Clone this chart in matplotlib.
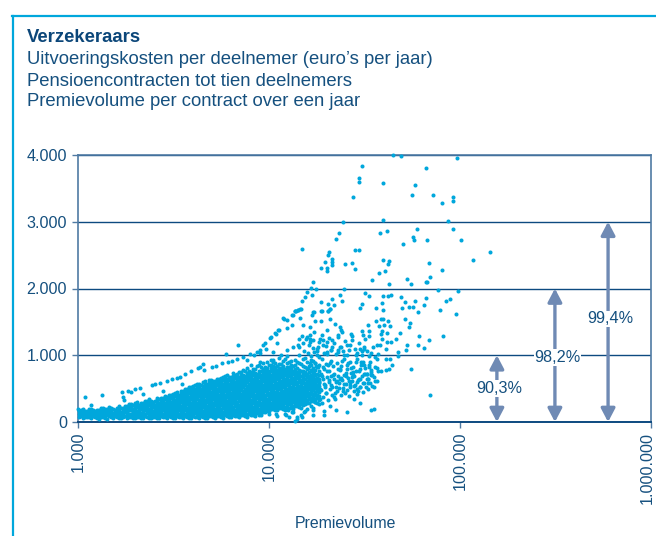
import matplotlib
matplotlib.use('Agg')
import matplotlib.pyplot as plt
from matplotlib.ticker import FixedLocator, NullLocator
from matplotlib.transforms import ScaledTranslation

plt.rcParams['font.family'] = ['Liberation Sans', 'DejaVu Sans']

kolom_premie = [1010, 1060, 1112, 1167, 1225, 1285, 1349, 1415, 1485, 1559, 1636, 1716, 1801, 1890, 1984, 2082,
                2185, 2293, 2406, 2525, 2650, 2781, 2918, 3063, 3214, 3373, 3540, 3715, 3898, 4091, 4293, 4505,
                4728, 4962, 5207, 5464, 5735, 6018, 6315, 6628, 6955, 7299, 7660, 8038, 8436, 8853, 9290, 9749,
                10230, 10740, 11270, 11830, 12410, 13020, 13670, 14340, 15050, 15800, 16580, 17400, 18260]
kolom_kosten = [
    [75, 120, 165],
    [60, 100, 145, 190],
    [80, 125, 170],
    [55, 105, 150, 195],
    [70, 115, 160],
    [45, 95, 140, 185],
    [75, 120, 165, 205],
    [50, 100, 150, 195],
    [70, 115, 165, 210],
    [85, 130, 180],
    [55, 100, 145, 190, 235],
    [75, 120, 170, 215],
    [60, 105, 150, 200, 245],
    [80, 125, 175, 220, 270],
    [55, 100, 145, 195, 240, 290],
    [75, 120, 165, 215, 260],
    [60, 105, 150, 195, 245, 290],
    [80, 130, 175, 220, 265, 315],
    [55, 100, 145, 195, 240, 285, 320],
    [75, 125, 170, 215, 260, 310],
    [60, 105, 150, 200, 245, 290, 340],
    [80, 125, 175, 220, 265, 310, 360],
    [55, 100, 150, 195, 240, 285, 335, 375],
    [75, 120, 170, 215, 260, 305, 355, 410],
    [60, 105, 150, 195, 245, 290, 335, 385, 430],
    [80, 125, 175, 220, 265, 315, 360, 405],
    [55, 100, 150, 195, 240, 285, 335, 380, 425, 470],
    [75, 125, 170, 215, 265, 310, 355, 405, 450, 500],
    [60, 105, 150, 200, 245, 290, 340, 385, 430, 480, 525],
    [80, 130, 175, 220, 270, 315, 360, 410, 455, 500, 550],
    [55, 105, 150, 195, 245, 290, 335, 385, 430, 475, 525, 575],
    [80, 125, 170, 220, 265, 310, 360, 405, 450, 500, 545, 600],
    [60, 105, 155, 200, 245, 295, 340, 385, 435, 480, 525, 575],
    [85, 130, 175, 225, 270, 315, 365, 410, 455, 505, 550, 595, 625],
    [60, 110, 155, 200, 250, 295, 340, 390, 435, 480, 530, 575, 620],
    [85, 130, 180, 225, 270, 320, 365, 410, 460, 505, 550, 600, 645],
    [65, 110, 155, 205, 250, 295, 345, 390, 435, 485, 530, 575, 625, 680],
    [90, 135, 180, 230, 275, 320, 370, 415, 460, 510, 555, 600, 650, 700],
    [70, 115, 160, 210, 255, 300, 350, 395, 440, 490, 535, 580, 630, 675],
    [95, 140, 185, 235, 280, 325, 375, 420, 465, 515, 560, 605, 655, 710],
    [75, 120, 170, 215, 260, 310, 355, 400, 450, 495, 540, 590, 635, 680, 745],
    [100, 145, 190, 240, 285, 330, 380, 425, 470, 520, 565, 610, 660, 705, 780],
    [80, 125, 175, 220, 265, 315, 360, 405, 455, 500, 545, 595, 640, 685, 735, 810],
    [105, 150, 195, 245, 290, 335, 385, 430, 475, 525, 570, 615, 665, 710, 755, 850],
    [85, 130, 180, 225, 270, 320, 365, 410, 460, 505, 550, 600, 645, 690, 740, 800],
    [110, 155, 200, 250, 295, 340, 390, 435, 480, 530, 575, 620, 670, 715, 760, 860],
    [145, 190, 235, 280, 330, 375, 420, 470, 515, 560, 610, 655, 700, 750, 795, 880],
    [170, 210, 260, 305, 350, 400, 445, 490, 540, 585, 630, 680, 725, 770, 815, 905],
    [195, 245, 290, 340, 385, 430, 480, 525, 570, 620, 665, 710, 760, 805, 850, 930],
    [180, 225, 270, 315, 365, 410, 455, 505, 550, 595, 645, 690, 735, 785, 830, 880],
    [210, 255, 300, 350, 395, 440, 490, 535, 580, 630, 675, 720, 770, 815, 865, 960],
    [190, 240, 285, 330, 380, 425, 470, 520, 565, 610, 660, 705, 750, 800, 845, 920],
    [220, 270, 315, 360, 410, 455, 500, 550, 595, 640, 690, 735, 780, 830, 880, 985],
    [205, 250, 300, 345, 390, 440, 485, 530, 580, 625, 670, 720, 765, 810, 860, 910],
    [235, 285, 330, 375, 425, 470, 515, 565, 610, 655, 705, 750, 795, 850, 930],
    [220, 265, 315, 360, 405, 455, 500, 545, 595, 640, 685, 735, 780, 880, 1000],
    [250, 300, 345, 390, 440, 485, 530, 580, 625, 670, 720, 770, 835, 950],
    [280, 335, 385, 430, 480, 525, 575, 620, 670, 725, 800, 900],
    [240, 310, 365, 415, 470, 515, 565, 610, 665, 710, 770, 860, 990],
    [300, 350, 400, 455, 505, 550, 600, 650, 705, 780, 890],
    [265, 335, 390, 445, 490, 540, 595, 640, 700, 760, 860],
]

# tussenkolommen, een halve stap verder
tussen_premie = [1035, 1086, 1139, 1196, 1255, 1317, 1382, 1450, 1522, 1597, 1676, 1758, 1845, 1937, 2033, 2133,
                 2239, 2349, 2465, 2587, 2715, 2850, 2990, 3138, 3293, 3456, 3627, 3806, 3994, 4191, 4398, 4616,
                 4844, 5083, 5334, 5598, 5875, 6165, 6470, 6790, 7125, 7477, 7847, 8235, 8642, 9069, 9517, 9987,
                 10480, 11000, 11550, 12120, 12710, 13340, 14000, 14690, 15420, 16190, 16990, 17830]
tussen_kosten = [
    [95, 140, 185],
    [80, 125, 170],
    [70, 105, 150, 200],
    [85, 130, 175],
    [60, 95, 135, 180],
    [80, 120, 160, 210],
    [65, 105, 145, 190],
    [85, 130, 175, 220],
    [55, 95, 140, 190],
    [75, 120, 160, 205],
    [65, 110, 150, 205],
    [95, 145, 195, 240],
    [70, 125, 175, 225, 265],
    [60, 105, 150, 200, 250],
    [80, 120, 170, 220, 270, 305],
    [60, 95, 140, 190, 240, 285],
    [85, 125, 175, 220, 270, 310],
    [65, 110, 155, 200, 250, 295, 340],
    [80, 120, 170, 220, 265, 305],
    [60, 100, 150, 195, 240, 285, 330, 360],
    [90, 130, 180, 225, 270, 320, 365],
    [70, 110, 150, 200, 245, 290, 340, 385],
    [85, 130, 175, 220, 265, 315, 355, 400],
    [60, 100, 150, 195, 245, 285, 330, 380, 420],
    [95, 135, 175, 220, 265, 310, 360, 405, 445],
    [70, 110, 155, 200, 245, 295, 340, 385, 430, 460],
    [90, 125, 175, 220, 265, 310, 355, 400, 450, 495],
    [65, 105, 150, 195, 240, 290, 335, 380, 430, 475, 520],
    [85, 130, 175, 220, 270, 310, 360, 405, 455, 500, 540],
    [70, 105, 155, 200, 245, 290, 340, 385, 430, 480, 525, 565],
    [90, 130, 175, 225, 270, 315, 365, 410, 450, 500, 550],
    [65, 110, 150, 195, 240, 290, 335, 385, 430, 475, 525, 570, 615],
    [85, 130, 175, 225, 270, 310, 360, 405, 450, 500, 545, 590, 630],
    [70, 105, 155, 200, 245, 290, 340, 385, 435, 480, 525, 570, 615],
    [95, 130, 175, 220, 270, 315, 360, 410, 455, 500, 550, 595, 640],
    [75, 110, 155, 200, 250, 295, 340, 385, 435, 480, 525, 575, 620, 660],
    [100, 135, 180, 225, 270, 320, 365, 410, 460, 505, 550, 595, 645, 690],
    [80, 115, 160, 205, 250, 295, 345, 390, 435, 485, 530, 575, 625, 670],
    [105, 140, 185, 230, 280, 325, 370, 415, 465, 510, 555, 605, 650, 695, 730],
    [85, 125, 170, 215, 260, 305, 355, 400, 445, 495, 540, 585, 635, 680, 725],
    [110, 150, 195, 240, 285, 335, 380, 425, 475, 520, 565, 615, 660, 705, 755],
    [90, 130, 175, 220, 270, 315, 360, 410, 455, 500, 550, 595, 640, 690, 770],
    [125, 160, 205, 250, 295, 345, 390, 435, 485, 530, 575, 625, 670, 715, 765],
    [100, 140, 185, 230, 280, 325, 370, 420, 465, 510, 560, 605, 650, 700, 745, 800],
    [130, 170, 215, 260, 305, 355, 400, 445, 495, 540, 585, 635, 680, 725, 840],
    [110, 155, 200, 245, 290, 340, 385, 430, 480, 525, 570, 620, 665, 710, 760, 820],
    [150, 180, 225, 270, 320, 365, 410, 460, 505, 550, 600, 645, 690, 740, 785, 830],
    [125, 165, 210, 255, 300, 350, 395, 440, 490, 535, 580, 630, 675, 720, 770, 860],
    [190, 235, 280, 330, 375, 420, 470, 515, 560, 610, 655, 700, 750, 795, 840, 900],
    [85, 175, 220, 265, 310, 360, 405, 450, 500, 545, 590, 640, 685, 730, 775, 845],
    [205, 250, 295, 340, 390, 435, 480, 530, 575, 620, 670, 715, 760, 810, 870],
    [120, 185, 230, 280, 325, 370, 420, 465, 510, 560, 605, 650, 700, 745, 790, 940],
    [70, 215, 265, 310, 355, 405, 450, 495, 545, 590, 635, 685, 730, 780, 830, 895],
    [150, 200, 245, 295, 340, 385, 435, 480, 525, 575, 620, 665, 715, 765, 840],
    [40, 235, 280, 325, 375, 420, 465, 515, 560, 605, 655, 700, 750, 810, 900],
    [110, 215, 265, 310, 355, 405, 450, 495, 545, 590, 635, 685, 760, 870],
    [170, 265, 310, 360, 405, 450, 500, 545, 590, 640, 700, 755, 820, 965],
    [290, 340, 390, 440, 490, 535, 585, 635, 690, 750, 840],
    [210, 320, 375, 420, 475, 520, 570, 625, 675, 735, 810, 920],
    [280, 360, 410, 460, 505, 560, 610, 665, 725, 830],
]

# rechterkant van de wolk, niet meer gesloten
rechts_premie = [15700, 15900, 16050, 16220, 16380, 16510, 16700, 16840, 17020, 17150, 17310, 17480, 17640, 17760,
                 17930, 18120, 18260, 18430, 18610, 18790, 18920, 19110, 19280, 19430, 19620, 19800, 19970, 20140,
                 20310, 20520, 20700, 20860, 21080, 21240, 21450, 21630, 21820, 22010, 22240, 22420, 22610, 22830,
                 23040, 23220, 23460, 23680, 23890, 24120, 24360, 24570, 24820, 25060, 25310, 25560, 25800, 26050,
                 26330, 26600, 26860, 27130, 27420, 27700, 27990, 28310, 28620, 28930, 29250, 29590, 29930, 30280,
                 30620, 31000, 31350, 31700, 32100, 32500, 32900, 33300, 33800, 34300, 34800, 35400, 36000, 36600,
                 15820, 16130, 16450, 16790, 17200, 17570, 17850, 18210, 18520, 18850, 19200, 19520, 19880, 20230,
                 20620, 20950, 21350, 21720, 22120, 22520, 22950, 23330, 23780, 24240, 24690, 25180, 25680, 26190,
                 26720, 27280, 27850, 28460, 29080, 29760, 30450, 31170, 31900, 32700, 33550, 34550, 35700, 37000,
                 16020, 16600, 17080, 17700, 18330, 18980, 19680, 20430, 21160, 21940, 22760, 23550, 24460, 25430,
                 26450, 27560, 28770, 30050, 31450, 32900, 34400]
rechts_kosten = [320, 560, 805, 410, 690, 930, 360, 610, 485, 760, 300, 880, 535, 655, 410, 820, 590, 345, 720, 480,
                 950, 640, 375, 790, 525, 870, 440, 680, 330, 600, 760, 490, 910, 555, 410, 835, 640, 720, 350, 530,
                 880, 460, 690, 590, 775, 400, 840, 625, 505, 950, 710, 440, 565, 790, 660, 880, 395, 520, 740, 610,
                 830, 470, 690, 560, 900, 420, 630, 770, 520, 850, 690, 455, 590, 810, 530, 720, 640, 860, 590, 775,
                 540, 680, 820, 610,
                 430, 640, 880, 520, 720, 410, 610, 975, 500, 690, 820, 570, 440, 760, 630, 880, 520, 700, 440, 600,
                 790, 510, 660, 920, 570, 730, 480, 620, 810, 680, 540, 760, 470, 640, 900, 580, 720, 650, 820, 700,
                 610, 760,
                 670, 780, 365, 840, 620, 290, 560, 860, 690, 380, 620, 800, 470, 690, 550, 750, 490, 640, 720, 580, 700]

# extra band tussen 1.000 en 1.500 euro, rechts van de wolk
band_premie = [14300, 15000, 15600, 15950, 16300, 16900, 17300, 17900, 18300, 18900, 19400, 19900, 20500, 21100,
               21800, 22300, 23100, 23700, 24300, 25000, 25700, 26500, 27300, 28100, 28900, 29700, 30500, 31600,
               32600, 34200, 35900, 37400, 15300, 16100, 17000, 18100, 19100, 20200, 21500, 22900, 24700, 26200,
               28400, 30800, 33200]
band_kosten = [1125, 1190, 1245, 1030, 1300, 1110, 1345, 1060, 1205, 1310, 1040, 1140, 1260, 1085, 1190, 1015, 1280,
               1120, 1060, 1220, 1005, 1150, 1290, 1090, 1040, 1190, 1010, 1120, 1060, 1030, 980, 1020, 1065, 1155,
               1230, 1130, 1230, 1050, 1130, 1085, 1010, 1075, 1000, 1070, 985]

# losse punten boven de wolk
los_premie = [1090, 1337, 1170, 1005, 1694, 1837, 1888, 1990, 2113, 2198, 1730, 1740, 2432, 2531, 2692, 2913,
              3097, 3289, 3420, 3631, 3908, 2780, 3491, 4266, 4498, 4355, 4592, 5012, 5260, 5700, 6124, 6427,
              6776, 5932, 6850, 7350, 7640, 7960, 8630, 8970, 9530, 10120, 11190, 11890, 12380, 13420, 14250,
              13150, 13680, 10760, 10970, 10540, 12380, 13420, 14250, 8970, 10540, 11600, 9340, 10240, 10900,
              11220, 11980, 12400, 13200, 13870, 14660, 8300, 9000, 9700,
              15130, 16400, 14520, 17400, 18800, 20900, 17070, 19000, 20350, 20870, 22100, 23530, 23900, 20050,
              16400, 14400, 14900, 15740, 18500, 20050, 21400, 23000, 24000, 27000, 27200, 30600, 31200, 31900,
              33000, 33400, 33500, 36300, 37800, 38500, 39700, 41800, 40200, 43200, 39200, 38400, 38900, 41700,
              46300, 48500, 43600, 41500, 51300, 54600, 53800, 60700, 60000, 52800, 64800, 69200, 81900, 47300,
              47600, 52000, 36600, 35200, 38300, 40800, 29900, 31500, 25500, 23500, 23000, 21000, 20050, 19270,
              17800, 16400, 17100, 17800,
              40800, 42800, 44000, 42300, 41000, 38600, 36800, 34000, 32500, 33000, 35500, 33000, 30000, 28800,
              26500, 23500, 55200, 70000, 35300, 34000, 30000, 27800, 25500, 22500, 20800, 19500, 19500, 16900,
              16900, 15800, 15200, 13600, 12300, 10900, 14000, 14900, 13200, 12500, 36600, 33800, 31200, 28800,
              26500, 25500, 30000, 27600, 31500]
los_kosten = [368, 403, 253, 188, 443, 468, 443, 498, 503, 418, 378, 328, 553, 568, 588, 613,
              638, 663, 678, 718, 758, 468, 568, 803, 868, 828, 778, 828, 838, 888, 903, 913,
              948, 1018, 1148, 968, 928, 1018, 1053, 1078, 1178, 1253, 1378, 1553, 1403, 1603, 1678,
              1453, 1668, 1328, 1178, 1053, 1078, 1128, 1153, 903, 928, 1003, 1150, 1275, 1325,
              1375, 1540, 1525, 1600, 1665, 1700, 1000, 1030, 1090,
              1450, 1425, 1565, 1515, 1515, 1550, 1650, 1665, 1665, 1700, 1475, 1425, 1375, 1385,
              1250, 1250, 1290, 1275, 1250, 1200, 1225, 1310, 1350, 1315, 1225, 1365, 1300, 1250,
              1450, 1360, 1290, 1515, 1435, 1550, 1540, 1520, 1450, 1435, 1365, 1325, 1250, 1340,
              1250, 1340, 1200, 1200, 1545, 1490, 1430, 1285, 1150, 1150, 1115, 1225, 1285, 1050,
              990, 1085, 1150, 1125, 1160, 1100, 1100, 1100, 1150, 1125, 1050, 1075, 1025, 1150,
              1100, 1200, 1050, 1000,
              950, 940, 850, 800, 775, 765, 810, 750, 725, 650, 525, 500, 525, 600,
              600, 650, 800, 400, 200, 175, 285, 340, 150, 175, 235, 160, 100, 175,
              100, 200, 150, 15, 100, 125, 75, 75, 150, 175, 950, 900, 900, 950,
              900, 850, 800, 700, 850]

# spaarzame punten bovenin
hoog_premie = [44700, 49100, 96900, 30700, 66700, 29700, 29500, 39700, 58300, 27500, 56100, 72300, 80900, 92300,
               92300, 24500, 39700, 86500, 23200, 38100, 41600, 59300, 91600, 22400, 56800, 57700, 67100, 100900,
               50500, 14900, 28200, 29700, 143500, 116500, 20700, 20300, 21500, 21500, 19600, 21300, 25000, 27300,
               39700, 42500, 42000, 68900, 18800, 20200, 20100, 28300, 40500, 37500, 80900, 70000, 52800, 34800,
               17000, 42500, 55200, 66400, 67000, 16500, 17700, 24600, 76400, 97900, 31800, 15800, 16700, 33400,
               23400, 39700, 42000, 43400, 48900, 15400, 21400, 14900, 18700, 24100, 58200, 66100, 88300, 84100,
               51500, 30800, 38900, 20400, 21800, 14600, 14100, 13600, 49500, 54100, 56800, 60000, 65100, 30000,
               36300, 39700, 20900, 18800, 20400, 78500, 17200, 16700, 94800]
hoog_kosten = [4000, 3985, 3950, 3830, 3810, 3650, 3595, 3585, 3550, 3375, 3405, 3405, 3285, 3375,
               3315, 2995, 3025, 3015, 2835, 2825, 2860, 2890, 2890, 2745, 2770, 2730, 2725, 2725,
               2665, 2590, 2575, 2575, 2545, 2420, 2540, 2500, 2435, 2390, 2390, 2345, 2370, 2375,
               2430, 2410, 2365, 2375, 2300, 2310, 2255, 2295, 2260, 2230, 2275, 2165, 2140, 2120,
               2090, 2065, 2065, 2090, 2090, 2010, 1995, 1995, 1975, 1965, 1930, 1950, 1900, 1895,
               1905, 1885, 1895, 1905, 1875, 1875, 1850, 1820, 1795, 1815, 1815, 1855, 1850, 1815,
               1795, 1770, 1780, 1770, 1760, 1700, 1685, 1665, 1715, 1730, 1720, 1650, 1760, 1715,
               1715, 1685, 1695, 1665, 1665, 1675, 1650, 1610, 1615]

pijl_premie = [156000, 314000, 596000]
pijl_top = [1000, 2000, 3000]
pijl_label = ['90,3%', '98,2%', '99,4%']
pijl_label_y = [500, 965, 1545]

y_ticks = [0, 1000, 2000, 3000, 4000]
y_labels = ['0', '1.000', '2.000', '3.000', '4.000']
x_ticks = [1000, 10000, 100000, 1000000]
x_labels = ['1.000', '10.000', '100.000', '1.000.000']

DONKER = '#0d4a80'
TEKST = '#15507f'
CYAAN = '#00a7dc'
PIJL = '#6f8ab4'
W, H = 656, 536

fig = plt.figure(figsize=(W / 100, H / 100), dpi=100)
ax = fig.add_axes([78 / W, 1 - 422 / H, (651 - 78) / W, (422 - 155) / H])

# kader
fig.add_artist(plt.Line2D([12.5 / W, 12.5 / W], [0, 1 - 16 / H], color=CYAAN, lw=1.6))
fig.add_artist(plt.Line2D([12 / W, 1], [1 - 16 / H, 1 - 16 / H], color=CYAAN, lw=1.6))

fig.text(27 / W, 1 - 37 / H, 'Verzekeraars', fontsize=13.3, fontweight='bold', color='#0b4679', va='center')
fig.text(27 / W, 1 - 59 / H, 'Uitvoeringskosten per deelnemer (euro’s per jaar)', fontsize=13.3, color=TEKST, va='center')
fig.text(27 / W, 1 - 81 / H, 'Pensioencontracten tot tien deelnemers', fontsize=13.3, color=TEKST, va='center')
fig.text(27 / W, 1 - 102 / H, 'Premievolume per contract over een jaar', fontsize=13.3, color=TEKST, va='center')

px = []
py = []
for premies, kolommen in [(kolom_premie, kolom_kosten), (tussen_premie, tussen_kosten)]:
    for premie, kosten in zip(premies, kolommen):
        for k in kosten:
            px.append(premie)
            py.append(k)
px += rechts_premie + band_premie + los_premie + hoog_premie
py += rechts_kosten + band_kosten + los_kosten + hoog_kosten

ax.scatter(px, py, s=8.5, color=CYAAN, linewidths=0, zorder=3, clip_on=False)

ax.set_xscale('log')
ax.set_xlim(1000, 1000000)
ax.set_ylim(0, 4000)
ax.xaxis.set_major_locator(FixedLocator(x_ticks))
ax.xaxis.set_minor_locator(NullLocator())
ax.set_xticklabels(x_labels, rotation=90, fontsize=11.6, color=TEKST)
ax.set_yticks(y_ticks)
ax.set_yticklabels(y_labels, fontsize=11.6, color=TEKST)
ax.tick_params(axis='both', length=4, width=1, color='#4f7aa3', pad=4)
ax.tick_params(axis='x', pad=3)
ax.grid(axis='y', color=DONKER, lw=1.0, zorder=1)
ax.set_axisbelow(True)

# laatste label staat iets naar links, anders valt het van de rand
laatste = ax.get_xticklabels()[-1]
laatste.set_transform(laatste.get_transform() + ScaledTranslation(-4 / 100, 0, fig.dpi_scale_trans))

for s in ['left', 'top', 'right']:
    ax.spines[s].set_color('#4f7aa3')
    ax.spines[s].set_linewidth(1.2)
ax.spines['bottom'].set_color(DONKER)
ax.spines['bottom'].set_linewidth(1.4)

ax.set_xlabel('Premievolume', fontsize=11.4, color=TEKST)
ax.xaxis.set_label_coords((345 - 78) / (651 - 78), -(523 - 422) / (422 - 155), transform=ax.transAxes)
ax.xaxis.label.set_va('center')

for x, top, lab, ly in zip(pijl_premie, pijl_top, pijl_label, pijl_label_y):
    ax.annotate('', xy=(x, top), xytext=(x, 0),
                arrowprops=dict(arrowstyle='<|-|>,head_length=0.8,head_width=0.42', color=PIJL, lw=2.4,
                                shrinkA=0, shrinkB=0), zorder=4)
    ax.text(x * 1.03, ly, lab, fontsize=11.7, color=TEKST, ha='center', va='center', zorder=5,
            bbox=dict(facecolor='white', edgecolor='none', pad=0.5))

fig.savefig('out.png', dpi=100)
